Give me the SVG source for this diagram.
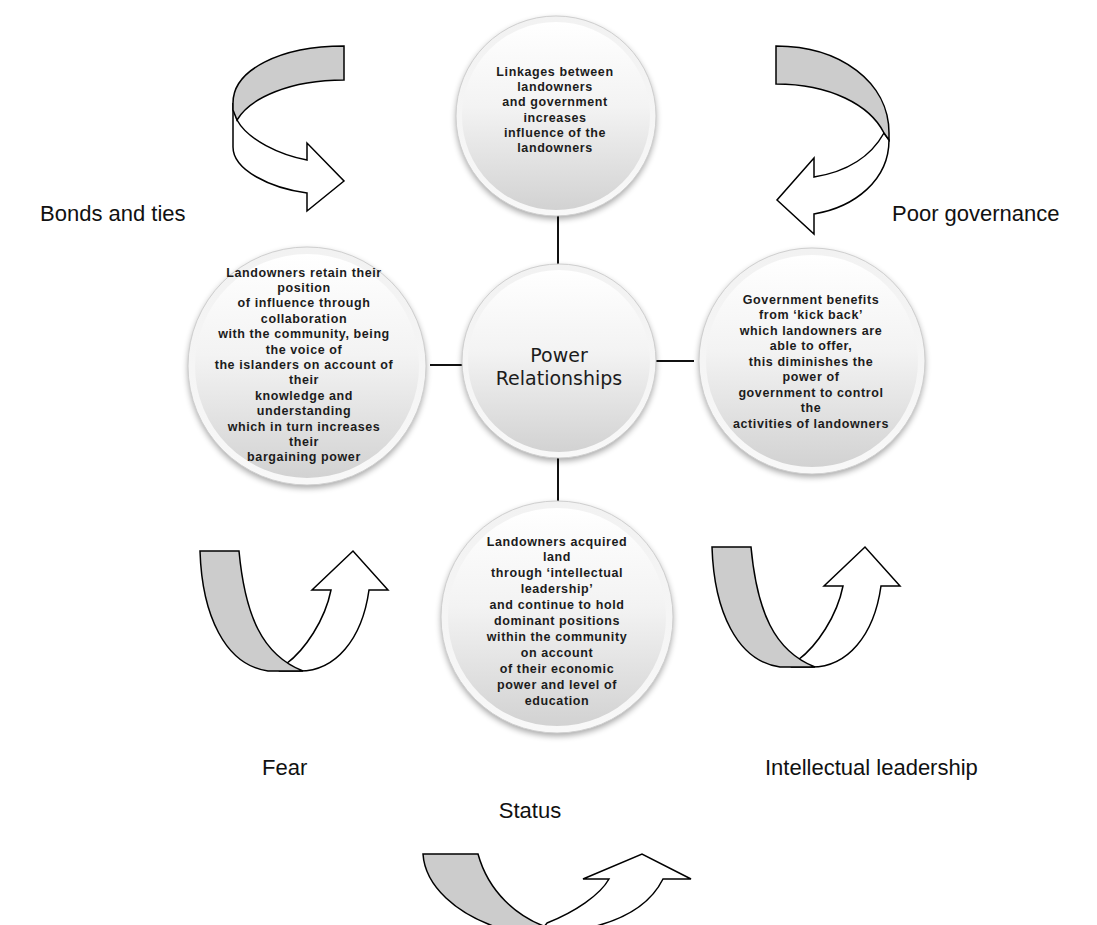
<svg xmlns="http://www.w3.org/2000/svg" width="1097" height="925" viewBox="0 0 1097 925">
<style>
.lbl{font-family:"Liberation Sans",Arial,sans-serif;font-size:22px;fill:#111}
.ct{font-family:"Liberation Sans",Arial,sans-serif;font-size:12.5px;font-weight:bold;letter-spacing:0.6px;fill:#1c1c1c;text-anchor:middle}
.title{font-family:"DejaVu Sans",sans-serif;font-size:19px;fill:#1c1c1c;text-anchor:middle}
.rim{fill:url(#gRim);stroke:#cfcfcf;stroke-width:1}
.face{fill:url(#gFace)}
.shadow{fill:#000;opacity:0.35;filter:url(#blur)}
.conn{stroke:#111;stroke-width:2;fill:none}
.gray{fill:#cccccc;stroke:#000;stroke-width:1.5;stroke-linejoin:miter}
.white{fill:#ffffff;stroke:#000;stroke-width:1.5;stroke-linejoin:miter}
</style>
<defs>
<linearGradient id="gRim" x1="0" y1="0" x2="0" y2="1">
<stop offset="0" stop-color="#f2f2f2"/>
<stop offset="1" stop-color="#f8f8f8"/>
</linearGradient>
<linearGradient id="gFace" x1="0" y1="0" x2="0" y2="1">
<stop offset="0" stop-color="#ffffff"/>
<stop offset="0.45" stop-color="#f3f3f3"/>
<stop offset="1" stop-color="#d2d2d2"/>
</linearGradient>
<filter id="blur" x="-20%" y="-20%" width="140%" height="140%">
<feGaussianBlur stdDeviation="3"/>
</filter>
</defs>
<rect width="1097" height="925" fill="#ffffff"/>

<g id="connectors">
<line class="conn" x1="558" y1="215" x2="558" y2="266"/>
<line class="conn" x1="430" y1="365" x2="464" y2="365"/>
<line class="conn" x1="654" y1="361" x2="694" y2="361"/>
<line class="conn" x1="558" y1="456" x2="558" y2="502"/>
</g>

<g id="node-top">
<circle class="shadow" cx="556" cy="119" r="100"/>
<circle class="rim" cx="556" cy="116" r="100"/>
<circle class="face" cx="556" cy="116" r="94"/>
<text class="ct" x="555" y="76">Linkages  between</text>
<text class="ct" x="555" y="91.2">landowners</text>
<text class="ct" x="555" y="106.4">and government</text>
<text class="ct" x="555" y="121.6">increases</text>
<text class="ct" x="555" y="136.8">influence  of the</text>
<text class="ct" x="555" y="152">landowners</text>
</g>

<g id="node-center">
<circle class="shadow" cx="559" cy="364" r="97"/>
<circle class="rim" cx="559" cy="361" r="97"/>
<circle class="face" cx="559" cy="361" r="91"/>
<text class="title" x="559" y="362">Power</text>
<text class="title" x="559" y="385">Relationships</text>
</g>

<g id="node-left">
<circle class="shadow" cx="307" cy="369" r="119"/>
<circle class="rim" cx="307" cy="366" r="119"/>
<circle class="face" cx="307" cy="366" r="112"/>
<text class="ct" x="304" y="276.5">Landowners retain their</text>
<text class="ct" x="304" y="291.9">position</text>
<text class="ct" x="304" y="307.3">of influence through</text>
<text class="ct" x="304" y="322.7">collaboration</text>
<text class="ct" x="304" y="338.1">with the community, being</text>
<text class="ct" x="304" y="353.5">the voice of</text>
<text class="ct" x="304" y="368.9">the islanders on account of</text>
<text class="ct" x="304" y="384.3">their</text>
<text class="ct" x="304" y="399.7">knowledge and</text>
<text class="ct" x="304" y="415.1">understanding</text>
<text class="ct" x="304" y="430.5">which in turn increases</text>
<text class="ct" x="304" y="445.9">their</text>
<text class="ct" x="304" y="461.3">bargaining power</text>
</g>

<g id="node-right">
<circle class="shadow" cx="812" cy="364" r="113"/>
<circle class="rim" cx="812" cy="361" r="113"/>
<circle class="face" cx="812" cy="361" r="106"/>
<text class="ct" x="811" y="303.5">Government benefits</text>
<text class="ct" x="811" y="319">from ‘kick back’</text>
<text class="ct" x="811" y="334.5">which landowners are</text>
<text class="ct" x="811" y="350">able to offer,</text>
<text class="ct" x="811" y="365.5">this diminishes the</text>
<text class="ct" x="811" y="381">power of</text>
<text class="ct" x="811" y="396.5">government to control</text>
<text class="ct" x="811" y="412">the</text>
<text class="ct" x="811" y="427.5">activities of landowners</text>
</g>

<g id="node-bottom">
<circle class="shadow" cx="557" cy="620" r="116"/>
<circle class="rim" cx="557" cy="617" r="116"/>
<circle class="face" cx="557" cy="617" r="109"/>
<text class="ct" x="557" y="545.5">Landowners acquired</text>
<text class="ct" x="557" y="561.4">land</text>
<text class="ct" x="557" y="577.3">through ‘intellectual</text>
<text class="ct" x="557" y="593.2">leadership’</text>
<text class="ct" x="557" y="609.1">and continue  to hold</text>
<text class="ct" x="557" y="625">dominant positions</text>
<text class="ct" x="557" y="640.9">within the community</text>
<text class="ct" x="557" y="656.8">on account</text>
<text class="ct" x="557" y="672.7">of their economic</text>
<text class="ct" x="557" y="688.6">power and level of</text>
<text class="ct" x="557" y="704.5">education</text>
</g>

<g id="arrow-bonds">
<path class="white" d="M 233,103 L 233,147 C 233,170 270,188 307,193 L 307,211 L 344,181 L 307,143 L 307,160 C 280,155 248,140 237,120 Z"/>
<path class="gray" d="M 344,46 L 344,80 C 290,80 250,98 237,120 L 233,110 L 233,103 C 233,70 280,46 344,46 Z"/>
<text class="lbl" x="40" y="221">Bonds and ties</text>
</g>

<g id="arrow-poor">
<path class="white" d="M 884,133 C 870,158 845,172 814,177 L 814,158 L 777,200 L 814,234 L 814,214 C 855,207 889,180 889,140 Z"/>
<path class="gray" d="M 776,46 C 840,46 889,82 889,133 L 889,140 L 884,133 C 870,105 830,84 776,84 Z"/>
<text class="lbl" x="892" y="221">Poor governance</text>
</g>

<g id="arrow-fear">
<path class="white" d="M 286,664 C 305,650 325,620 331,590 L 312,590 L 353,551 L 388,590 L 369,590 C 362,640 335,671 300,671 L 280,671 Z"/>
<path class="gray" d="M 200,551 L 239,551 C 245,615 262,655 303,671 L 268,671 C 225,665 202,615 200,551 Z"/>
<text class="lbl" x="262" y="775">Fear</text>
</g>

<g id="arrow-intellectual">
<path class="white" d="M 798,660 C 817,646 837,616 843,586 L 824,586 L 865,547 L 900,586 L 881,586 C 874,636 847,667 812,667 L 792,667 Z"/>
<path class="gray" d="M 712,547 L 751,547 C 757,611 774,651 815,667 L 780,667 C 737,661 714,611 712,547 Z"/>
<text class="lbl" x="765" y="775">Intellectual leadership</text>
</g>

<g id="arrow-status">
<path class="white" d="M 547,923 C 575,912 600,895 609,879 L 583,879 L 642,854 L 691,879 L 663,879 C 650,905 620,925 565,932 L 540,932 Z"/>
<path class="gray" d="M 423,854 L 478,854 C 488,890 515,918 555,930 L 505,930 C 455,915 425,885 423,854 Z"/>
<text class="lbl" x="530" y="818" text-anchor="middle">Status</text>
</g>
</svg>
